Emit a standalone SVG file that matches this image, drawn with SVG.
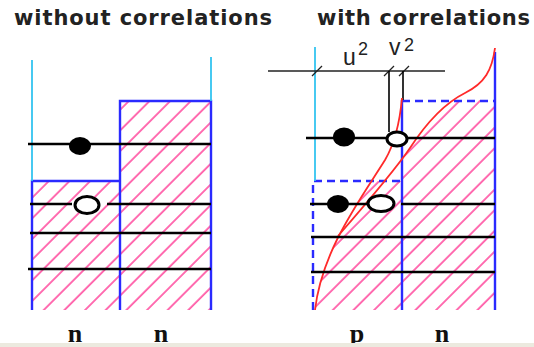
<svg xmlns="http://www.w3.org/2000/svg" width="534" height="347" viewBox="0 0 534 347">
<defs>
<pattern id="hatch" patternUnits="userSpaceOnUse" width="14.6" height="14.6" patternTransform="rotate(45)">
<line x1="2" y1="0" x2="2" y2="14.6" stroke="#ff4a9e" stroke-width="1.6"/>
</pattern>
<clipPath id="rightOfC1"><path d="M315,310 C322,250 360,200 385,160 C395,143 400,120 402,98 L402,320 L315,320 Z"/></clipPath>
<clipPath id="belowC2"><path d="M338,236 C365,205 395,170 410,148 C425,125 445,103 465,93 C485,83 492,70 495,48 L500,48 L500,320 L338,320 Z"/></clipPath>
</defs>
<style>
.title{font-family:"DejaVu Sans",Verdana,sans-serif;font-weight:bold;font-size:21px;fill:#222}
.lab{font-family:"Liberation Serif","Times New Roman",serif;font-weight:bold;font-size:26px;fill:#111;text-anchor:middle}
.sym{font-family:"Liberation Sans",Arial,sans-serif;fill:#222}
.blue{stroke:#2a2aff;stroke-width:2.4;fill:none}
.dash{stroke:#2a2aff;stroke-width:2.4;fill:none;stroke-dasharray:8 5}
.cyan{stroke:#33c4f0;stroke-width:1.8;fill:none}
.blk{stroke:#000;stroke-width:2.7;fill:none}
.thin{stroke:#222;stroke-width:1.3;fill:none}
.red{stroke:#ff2a2a;stroke-width:1.8;fill:none}
.full{fill:#000}
.open{fill:#fff;stroke:#000;stroke-width:3}
</style>
<rect width="534" height="347" fill="#fff"/>

<text class="title" x="14" y="25" textLength="258" lengthAdjust="spacing">without correlations</text>
<text class="title" x="317" y="25" textLength="213" lengthAdjust="spacing">with correlations</text>

<g id="left-panel">
<rect x="32" y="181" width="88" height="129" fill="url(#hatch)"/>
<rect x="120" y="101" width="91" height="209" fill="url(#hatch)"/>
<path class="blue" d="M32,310 V181 H120 V310 M120,310 V101 H211 V310"/>
<path class="cyan" d="M32,60 V181 M211,57 V101"/>
<g id="left-levels">
<path class="blk" d="M28,144 H211 M30,204 H72 M107,204 H211 M30,233 H211 M28,269 H211"/>
</g>
<ellipse id="left-particle" class="full" cx="80" cy="146" rx="11" ry="9"/>
<ellipse id="left-hole" class="open" cx="87" cy="205" rx="12" ry="8.5"/>
</g>

<g id="right-panel">
<g clip-path="url(#rightOfC1)"><rect x="313" y="181" width="89" height="129" fill="url(#hatch)"/></g>
<g clip-path="url(#belowC2)"><rect x="402" y="100" width="92" height="210" fill="url(#hatch)"/></g>
<path class="blue" d="M402,100 V310 M495,52 V310"/>
<path class="dash" d="M402,101 H494 M313,310 V181 H402"/>
<path class="cyan" d="M315,47 V181"/>
<g id="dimension">
<path class="thin" d="M268,71 H445"/>
<path class="thin" d="M312,76 L322,66 M384,76 L394,66 M399,76 L409,66"/>
<path stroke="#000" stroke-width="1.6" fill="none" d="M389,71 V132 M403,71 V100"/>
<text class="sym" x="343" y="65" font-size="23">u</text>
<text class="sym" x="358" y="55" font-size="18">2</text>
<text class="sym" x="389" y="55" font-size="23">v</text>
<text class="sym" x="404" y="51" font-size="18">2</text>
</g>
<g id="curves">
<path class="red" d="M315,310 C322,250 360,200 385,160 C395,143 400,120 402,98"/>
<path class="red" d="M338,236 C365,205 395,170 410,148 C425,125 445,103 465,93 C485,83 492,70 495,48"/>
</g>
<g id="right-levels">
<path class="blk" d="M306,138 H386 M408,138 H495 M310,204 H367 M401,204 H495 M311,237 H495 M311,272 H495"/>
</g>
<ellipse id="right-particle-1" class="full" cx="344" cy="137" rx="11" ry="9.5"/>
<ellipse id="right-hole-1" class="open" cx="397" cy="139" rx="10" ry="7"/>
<ellipse id="right-particle-2" class="full" cx="338" cy="204" rx="11" ry="9"/>
<ellipse id="right-hole-2" class="open" cx="381" cy="203.5" rx="13" ry="8"/>
</g>

<g id="labels">
<text class="lab" x="75" y="342">n</text>
<text class="lab" x="161" y="342">n</text>
<text class="lab" x="357" y="342">p</text>
<text class="lab" x="442" y="342">n</text>
</g>
<rect x="0" y="343" width="534" height="4" fill="#eceadf"/>
</svg>
